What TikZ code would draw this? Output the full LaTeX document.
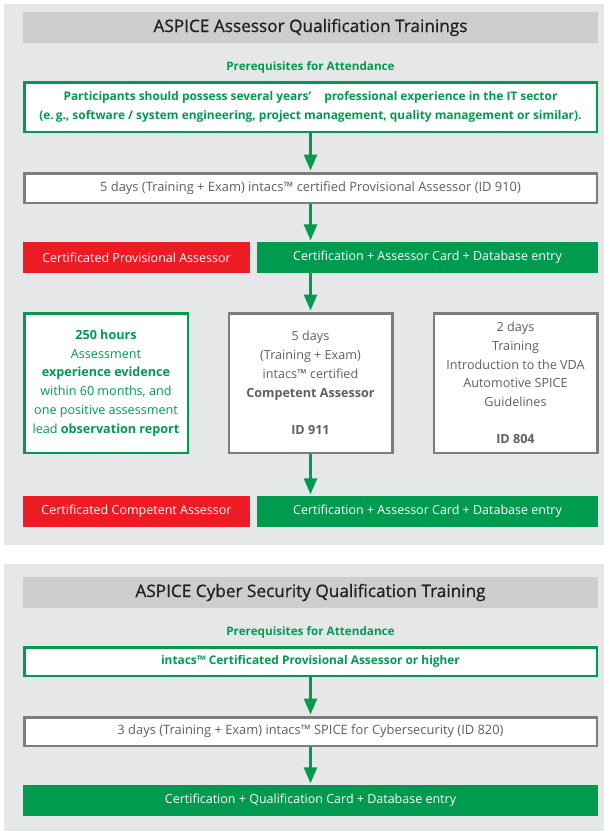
\documentclass[tikz,border=0pt]{standalone}
\usepackage{fontspec}
\setmainfont{Open Sans}
\newfontfamily\headfont[FakeBold=0.8]{Open Sans}
\usetikzlibrary{arrows.meta,positioning}
\definecolor{itgreen}{RGB}{0,155,78}
\definecolor{itred}{RGB}{237,28,36}
\definecolor{panelgray}{RGB}{230,231,233}
\definecolor{headgray}{RGB}{204,205,207}
\definecolor{framegray}{RGB}{125,125,128}
\definecolor{textgray}{RGB}{95,95,98}
\definecolor{titlegray}{RGB}{35,31,32}
\tikzset{
  headbox/.style={fill=headgray, minimum width=575pt, minimum height=31pt, inner sep=0pt,
    text=titlegray, font=\headfont\fontsize{17.2}{20}\selectfont},
  prereqlabel/.style={text=itgreen, font=\bfseries\fontsize{11.7}{14}\selectfont},
  prereqbox/.style={draw=itgreen, line width=2.5pt, fill=white, text=itgreen, align=center,
    inner sep=0pt, minimum width=572.5pt, font=\bfseries\fontsize{11.9}{19}\selectfont},
  coursebox/.style={draw=framegray, line width=2.5pt, fill=white, text=textgray, align=center,
    inner sep=0pt, font=\fontsize{12.9}{19}\selectfont},
  colbox/.style={line width=2.5pt, fill=white, align=center, inner sep=0pt,
    minimum width=163.5pt, minimum height=139.5pt, font=\fontsize{12.6}{18.7}\selectfont},
  redbox/.style={fill=itred, text=white, inner sep=0pt, minimum width=227pt, minimum height=31pt,
    font=\fontsize{12.5}{14}\selectfont},
  greenbox/.style={fill=itgreen, text=white, inner sep=0pt, minimum height=31pt,
    font=\fontsize{12.5}{14}\selectfont},
  flow/.style={draw=itgreen, line width=2.5pt, shorten >=1.5pt,
    -{Triangle[width=13pt,length=16pt]}}
}
\begin{document}
\begin{tikzpicture}[x=1pt,y=-1pt]
\useasboundingbox (0,0) rectangle (604,831);
% panels
\fill[panelgray] (4,4) rectangle (604,545);
\fill[panelgray] (4,564) rectangle (604,831);

% assessor qualification
\node[headbox] (head1) at (310.5,27.5) {ASPICE Assessor Qualification Trainings};
\node[prereqlabel] (lab1) at (310.5,67) {Prerequisites for Attendance};
\node[prereqbox, minimum height=49.5pt] (pre1) at (310.5,107)
  {Participants should possess several years’\hspace{1.1em}professional experience in the IT sector\\
   (e.\,g., software / system engineering, project management, quality management or similar).};
\node[coursebox, minimum width=572.5pt, minimum height=29.5pt] (prov) at (310.5,188)
  {5 days (Training + Exam) intacs™ certified Provisional Assessor (ID 910)};
\node[redbox] (red1) at (136.5,257.5) {Certificated Provisional Assessor};
\node[greenbox, minimum width=341pt] (cert1) at (427.5,257.5) {Certification + Assessor Card + Database entry};

\node[colbox, draw=itgreen, text=itgreen] (hours) at (106,383)
  {\textbf{250 hours}\\ Assessment\\ \textbf{experience evidence}\\ within 60 months, and\\
   one positive assessment\\ lead \textbf{observation report}};
\node[colbox, draw=framegray, text=textgray] (comp) at (310.5,383)
  {5 days\\ (Training + Exam)\\ intacs™ certified\\ \textbf{Competent Assessor}\\[18.7pt] \textbf{ID 911}};
\node[colbox, draw=framegray, text=textgray] (vda) at (515.5,383)
  {2 days\\ Training\\ Introduction to the VDA\\ Automotive SPICE\\ Guidelines\\[18.7pt] \textbf{ID 804}};

\node[redbox] (red2) at (136.5,511.5) {Certificated Competent Assessor};
\node[greenbox, minimum width=341pt] (cert2) at (427.5,511.5) {Certification + Assessor Card + Database entry};

\draw[flow] (pre1.south) -- (prov.north);
\draw[flow] (prov.south) -- (prov.south |- cert1.north);
\draw[flow] (comp.north |- cert1.south) -- (comp.north);
\draw[flow] (comp.south) -- (comp.south |- cert2.north);

% cyber security qualification
\node[headbox] (head2) at (310.5,592.5) {ASPICE Cyber Security Qualification Training};
\node[prereqlabel] (lab2) at (310.5,632) {Prerequisites for Attendance};
\node[prereqbox, minimum height=28.5pt] (pre2) at (310.5,661.5)
  {intacs™ Certificated Provisional Assessor or higher};
\node[coursebox, minimum width=572.5pt, minimum height=28.5pt] (cyber) at (310.5,731.5)
  {3 days (Training + Exam) intacs™ SPICE for Cybersecurity (ID 820)};
\node[greenbox, minimum width=575pt] (cybcert) at (310.5,800.5)
  {Certification + Qualification Card + Database entry};

\draw[flow] (pre2.south) -- (cyber.north);
\draw[flow] (cyber.south) -- (cybcert.north);
\end{tikzpicture}
\end{document}
